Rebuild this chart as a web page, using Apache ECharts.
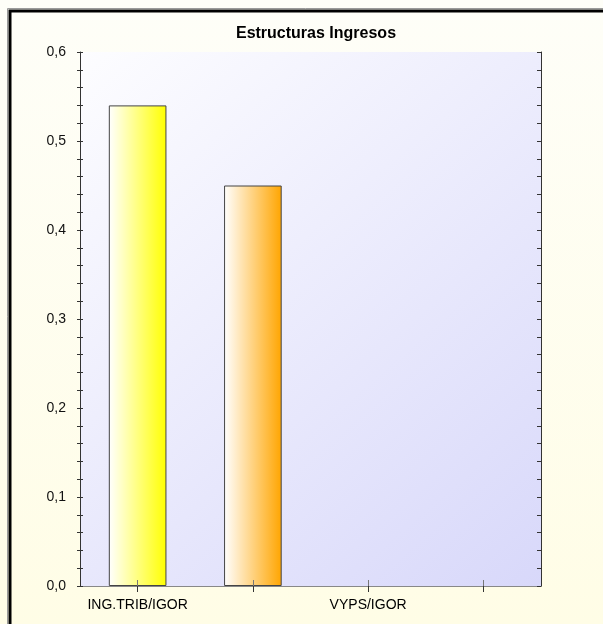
<!DOCTYPE html>
<html>
<head>
<meta charset="utf-8">
<script src="https://cdn.jsdelivr.net/npm/echarts@6/dist/echarts.min.js"></script>
<style>html,body{margin:0;padding:0;background:#FFFEF0;}#c{width:603px;height:624px;}</style>
</head>
<body>
<div id="c"></div>
<script>
var categories = ['ING.TRIB/IGOR', 'TRANSF/IGOR', 'VYPS/IGOR', 'OTROS/IGOR'];
var values = [0.54, 0.45, null, null];
var barColors = ['#FFFF00', '#FFA500'];
var yTicks = [0, 0.1, 0.2, 0.3, 0.4, 0.5, 0.6];

var chart = echarts.init(document.getElementById('c'));
var data = values.map(function (v, i) {
  return {
    value: v,
    itemStyle: {
      color: new echarts.graphic.LinearGradient(0, 0, 1, 0, [
        { offset: 0, color: '#FFFFFF' },
        { offset: 1, color: barColors[i] || '#FFFFFF' }
      ]),
      borderColor: '#444444',
      borderWidth: 1
    }
  };
});
var font = 'Liberation Sans, Arial, sans-serif';
chart.setOption({
  animation: false,
  backgroundColor: new echarts.graphic.LinearGradient(0, 0, 0, 1, [
    { offset: 0, color: '#FEFEF8' },
    { offset: 1, color: '#FFFDE6' }
  ]),
  title: {
    text: 'Estructuras Ingresos',
    left: 311, top: 21, textAlign: 'center',
    textStyle: { fontFamily: font, fontSize: 16, fontWeight: 'bold', color: '#000' }
  },
  graphic: [
    { type: 'rect', shape: { x: 7.5, y: 8.5, width: 700, height: 700 }, style: { fill: 'none', stroke: '#9a9a9a', lineWidth: 1 }, z: 100 },
    { type: 'rect', shape: { x: 10, y: 11, width: 700, height: 700 }, style: { fill: 'none', stroke: '#000', lineWidth: 3 }, z: 100 }
  ],
  grid: {
    left: 80, top: 52, right: 62, bottom: 38, show: true, borderWidth: 0,
    backgroundColor: new echarts.graphic.LinearGradient(0, 0, 1, 1, [
      { offset: 0, color: '#FDFDFF' },
      { offset: 1, color: '#D8D8FA' }
    ])
  },
  xAxis: [
    {
      type: 'category', data: categories, position: 'bottom', z: 5,
      axisLine: { lineStyle: { color: '#333', width: 1 } },
      axisTick: { show: true, alignWithLabel: true, interval: 0, length: 6, lineStyle: { color: '#777' } },
      axisLabel: { interval: 1, margin: 12, fontFamily: font, fontSize: 14, color: '#000' },
      splitLine: { show: false }
    },
    {
      type: 'category', data: categories, position: 'bottom', z: 5,
      axisLine: { show: false },
      axisTick: { show: true, inside: true, alignWithLabel: true, interval: 0, length: 6, lineStyle: { color: '#777' } },
      axisLabel: { show: false }, splitLine: { show: false }
    },
    {
      type: 'category', data: categories, position: 'top', z: 5,
      axisLine: { lineStyle: { color: '#888', width: 1 } },
      axisTick: { show: true, inside: true, alignWithLabel: true, interval: 0, length: 6, lineStyle: { color: '#333' } },
      axisLabel: { show: false }, splitLine: { show: false }
    }
  ],
  yAxis: [
    {
      type: 'value', min: yTicks[0], max: yTicks[yTicks.length - 1], interval: 0.1, position: 'left', z: 5,
      axisLine: { show: true, lineStyle: { color: '#333' } },
      axisTick: { show: true, length: 3, lineStyle: { color: '#333' } },
      minorTick: { show: true, splitNumber: 5, length: 3, lineStyle: { color: '#333' } },
      axisLabel: { margin: 14, fontFamily: font, fontSize: 14, color: '#111',
        formatter: function (v) { return v.toFixed(1).replace('.', ','); } },
      splitLine: { show: false }
    },
    {
      type: 'value', min: yTicks[0], max: yTicks[yTicks.length - 1], interval: 0.1, position: 'left', z: 5,
      axisLine: { show: false },
      axisTick: { show: true, inside: true, length: 3, lineStyle: { color: '#333' } },
      minorTick: { show: true, splitNumber: 5, length: 3, lineStyle: { color: '#333' } },
      axisLabel: { show: false }, splitLine: { show: false }
    },
    {
      type: 'value', min: yTicks[0], max: yTicks[yTicks.length - 1], interval: 0.1, position: 'right', z: 5,
      axisLine: { show: true, lineStyle: { color: '#333' } },
      axisTick: { show: true, inside: true, length: 4, lineStyle: { color: '#333' } },
      minorTick: { show: true, splitNumber: 5, length: 4, lineStyle: { color: '#333' } },
      axisLabel: { show: false }, splitLine: { show: false }
    }
  ],
  series: [{
    type: 'bar', xAxisIndex: 0, yAxisIndex: 0, barWidth: '50%', data: data, z: 2
  }]
});
</script>
</body>
</html>
